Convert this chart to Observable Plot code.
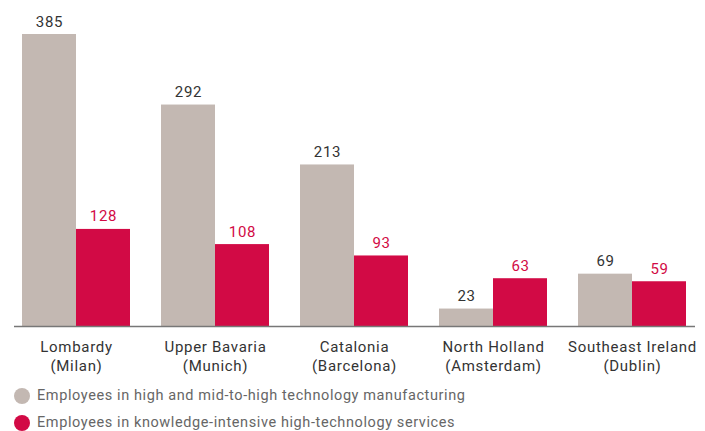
<!DOCTYPE html>
<html><head><meta charset="utf-8">
<script src="https://cdn.jsdelivr.net/npm/d3@7"></script>
<script src="https://cdn.jsdelivr.net/npm/@observablehq/plot@0.6"></script>
<style>
body{margin:0;background:#fff;font-family:Roboto,sans-serif;}
#legend{margin-left:14px;margin-top:2px;}
.item{display:flex;align-items:center;height:27px;font-size:14.5px;color:#666;letter-spacing:0.6px;}
.dot{width:16px;height:16px;border-radius:50%;margin-right:7px;}
svg text{letter-spacing:0.7px;}
</style>
</head><body>
<div id="chart"></div>
<div id="legend"></div>
<script>
const regions = ["Lombardy\n(Milan)", "Upper Bavaria\n(Munich)", "Catalonia\n(Barcelona)", "North Holland\n(Amsterdam)", "Southeast Ireland\n(Dublin)"];
const manufacturing = [385, 292, 213, 23, 69];
const services = [128, 108, 93, 63, 59];
const seriesNames = ["Employees in high and mid-to-high technology manufacturing", "Employees in knowledge-intensive high-technology services"];
const colors = ["#c3b8b2", "#d20a45"];

const manuData = regions.map((r, i) => ({region: r, value: manufacturing[i]}));
const servData = regions.map((r, i) => ({region: r, value: services[i]}));

const plot = Plot.plot({
  width: 705,
  height: 380,
  marginLeft: 14,
  marginRight: 10,
  marginTop: 34,
  marginBottom: 54,
  style: {fontFamily: "Roboto, sans-serif", fontSize: "15px", color: "#333"},
  x: {domain: regions, paddingInner: 0.223, paddingOuter: 0.061, axis: null},
  y: {domain: [0, 385], axis: null},
  marks: [
    Plot.barY(manuData, {x: "region", y: "value", fill: colors[0], insetRight: 54}),
    Plot.barY(servData, {x: "region", y: "value", fill: colors[1], insetLeft: 54}),
    Plot.text(manuData, {x: "region", y: "value", text: d => String(d.value), dx: -27, dy: -8, lineAnchor: "bottom", fill: "#333", fontSize: 15}),
    Plot.text(servData, {x: "region", y: "value", text: d => String(d.value), dx: 27, dy: -8, lineAnchor: "bottom", fill: colors[1], fontSize: 15}),
    Plot.ruleY([0], {stroke: "#777", strokeWidth: 1.5}),
    Plot.axisX({tickSize: 0, tickPadding: 12, fontSize: 15, lineHeight: 1.25, fill: "#333", label: null})
  ]
});
document.getElementById("chart").appendChild(plot);

const legend = document.getElementById("legend");
seriesNames.forEach((n, i) => {
  const it = document.createElement("div");
  it.className = "item";
  const dot = document.createElement("div");
  dot.className = "dot";
  dot.style.background = colors[i];
  const t = document.createElement("span");
  t.textContent = n;
  it.appendChild(dot); it.appendChild(t);
  legend.appendChild(it);
});
</script>
</body></html>
